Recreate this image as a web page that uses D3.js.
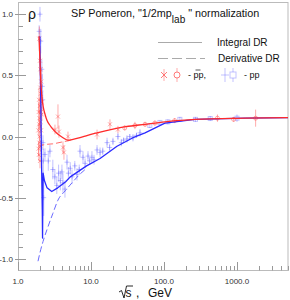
<!DOCTYPE html>
<html><head><meta charset="utf-8">
<script src="https://cdn.jsdelivr.net/npm/d3@7"></script>
<style>body{margin:0;background:#fff}svg{display:block}text{font-family:"Liberation Sans",Arial,sans-serif}</style>
</head><body><svg id="c" width="290" height="300"></svg>
<script>
// ---- data ----
const xTicks = [1, 10, 100, 1000];
const xTickLabels = ["1.0", "10.0", "100.0", "1000.0"];
const yTicks = [-1, -0.5, 0, 0.5, 1];
const yTickLabels = ["-1.0", "-0.5", "0.0", "0.5", "1.0"];

const redSolidS   = [1.94,2.0,2.05,2.1,2.15,2.22,2.35,2.5,2.75,3.0,3.5,4.13,4.84,5.5,7.07,9,12.1,20,30,55,103,266,1290,5000];
const redSolidRho = [0.82,0.62,0.46,0.36,0.30,0.24,0.18,0.13,0.09,0.06,0.02,-0.01,-0.03,-0.025,-0.01,0.01,0.03,0.06,0.08,0.10,0.12,0.14,0.15,0.155];
const redDashS    = [1.9,2.4,3.0,4.0,4.84,5.5];
const redDashRho  = [-0.08,-0.065,-0.06,-0.045,-0.035,-0.028];
const blueSolidS   = [1.99,2.05,2.1,2.15,2.17,2.19,2.21,2.3,2.5,2.9,3.5,4.5,5.2,8.7,13.3,22.7,37.6,55,103,266,1290,5000];
const blueSolidRho = [0.82,0.3,-0.2,-0.6,-0.83,-0.5,-0.3,-0.36,-0.42,-0.45,-0.42,-0.37,-0.33,-0.24,-0.18,-0.08,-0.01,0.03,0.11,0.14,0.15,0.155];
const blueDashS   = [1.88,2.0,2.2,2.5,3.0,3.53,4.5,5.66,7.0,8.5];
const blueDashRho = [-1.02,-0.95,-0.86,-0.76,-0.63,-0.52,-0.44,-0.37,-0.31,-0.265];

const redCrossS   = [1.90,1.91,1.92,1.93,1.94,1.95,1.96,1.97,1.98,1.99,2.00,2.01,2.02,2.03,2.04,2.05,2.06,2.07,2.08,2.10,1.96,2.0,2.03,2.12,3.21,3.53,3.64,4.13,4.26,4.84,12.1,18.2,23.4];
const redCrossRho = [0.05,-0.10,0.20,-0.15,0.30,0.10,-0.05,0.15,0.00,0.25,-0.20,0.08,0.40,0.12,-0.08,0.35,0.20,0.05,0.45,0.28,0.80,0.62,0.55,0.18,0.057,0.163,0.04,-0.09,-0.13,0.0,0.016,0.10,0.057];
const redCrossErr = [0.05,0.06,0.08,0.05,0.10,0.04,0.05,0.06,0.04,0.07,0.06,0.05,0.10,0.05,0.05,0.08,0.06,0.05,0.10,0.07,0.10,0.12,0.10,0.05,0.04,0.10,0.05,0.05,0.06,0.04,0.04,0.04,0.03];
const redCircS   = [29,40,55,75,140,540,900,1800];
const redCircRho = [0.07,0.09,0.10,0.11,0.13,0.15,0.14,0.15];
const redCircErr = [0.02,0.03,0.02,0.02,0.02,0.03,0.02,0.07];

const bluePlusS   = [1.95,2.0,2.05,2.12,2.15,2.18,2.2,2.22,2.25,2.34,2.74,3.0,3.2,3.6,3.8,4.0,4.13,4.4,4.69,5.5,6.43,7.07,7.77,9.1,10.3,12.1,13.3,16.6,20,23.4,31.1,37.6,46.9,
                     2.6,3.4,4.9,5.2,6.0,6.9,8.3,9.6,11.0,14.5,18.0,26.0,28.0,34.0,42.0];
const bluePlusRho = [0.86,1.0,0.78,0.55,0.41,0.30,-0.05,-0.20,-0.50,-0.147,-0.12,-0.27,-0.33,-0.30,-0.36,-0.29,-0.38,-0.43,-0.21,-0.33,-0.31,-0.12,-0.17,-0.16,-0.17,-0.11,-0.13,-0.05,-0.04,0.0,-0.02,-0.01,0.03,
                     -0.20,-0.40,-0.30,-0.26,-0.24,-0.27,-0.22,-0.20,-0.19,-0.12,-0.09,-0.05,-0.03,0.0,0.01];
const bluePlusErr = [0.05,0.06,0.10,0.08,0.10,0.08,0.06,0.10,0.15,0.05,0.05,0.08,0.06,0.07,0.08,0.06,0.08,0.07,0.06,0.06,0.05,0.05,0.05,0.04,0.05,0.04,0.04,0.04,0.03,0.03,0.03,0.03,0.03,
                     0.08,0.07,0.05,0.05,0.04,0.04,0.04,0.03,0.04,0.03,0.03,0.03,0.02,0.02,0.02];
const blueSqS   = [64,88,113,165,270,430,1000];
const blueSqRho = [0.09,0.115,0.12,0.14,0.14,0.147,0.15];
const blueSqErr = [0.02,0.015,0.02,0.02,0.02,0.02,0.03];

// ---- chart ----
const svg = d3.select("#c");
const x = d3.scaleLog().domain([1, 5000]).range([18, 288]);
const y = d3.scaleLinear().domain([-1.1, 1.1]).range([271, 2]);
const RED = "#ff2a2a", BLUE = "#2a2aff";
const RPT = "rgba(255,70,70,0.45)", BPT = "rgba(80,80,255,0.35)";

// frame
svg.append("rect").attr("x",18.5).attr("y",2.5).attr("width",269.5).attr("height",268)
  .attr("fill","none").attr("stroke","#bbb").attr("stroke-width",1);

// y ticks
const g = svg.append("g");
d3.range(-10, 11).forEach(i => {
  const v = i/10, yy = Math.round(y(v))+0.5;
  const major = i % 5 === 0;
  g.append("line").attr("x1", major?15:18.5).attr("x2", major?26:23).attr("y1",yy).attr("y2",yy)
    .attr("stroke","#999").attr("stroke-width",1);
});
yTicks.forEach((v,i)=>{
  g.append("text").attr("x",13).attr("y",y(v)+3).attr("text-anchor","end")
   .attr("font-size",8).attr("fill","#333").text(yTickLabels[i]);
});
// x ticks
xTicks.forEach(dec=>{
  for(let k=1;k<10;k++){
    const v=dec*k; if(v>5000) break;
    const xx=Math.round(x(v))+0.5; const major=k===1;
    g.append("line").attr("x1",xx).attr("x2",xx).attr("y1",270.5).attr("y2",major?262:266)
      .attr("stroke","#999").attr("stroke-width",1);
  }
});
xTicks.forEach((v,i)=>{
  g.append("text").attr("x",x(v)).attr("y",284).attr("text-anchor","middle")
   .attr("font-size",8).attr("fill","#333").text(xTickLabels[i]);
});

// axis titles
svg.append("text").attr("x",28).attr("y",19).attr("font-size",14).attr("fill","#111").text("ρ");
svg.append("text").attr("x",125.5).attr("y",297).attr("font-size",12).attr("fill","#111").text("s");
svg.append("text").attr("x",136).attr("y",297).attr("font-size",12).attr("fill","#111").text(",");
svg.append("text").attr("x",148).attr("y",297).attr("font-size",12).attr("fill","#111").text("GeV");
svg.append("path").attr("d","M119,292 L121.5,290.5 L124,298 L126.5,286 L133,286").attr("fill","none").attr("stroke","#111").attr("stroke-width",0.9);

// title
const tt = svg.append("text").attr("x",71).attr("y",17).attr("font-size",10.8).attr("fill","#111");
tt.append("tspan").text('SP Pomeron, "1/2mp');
tt.append("tspan").attr("dy",6).attr("font-size",10).text("lab");
tt.append("tspan").attr("dy",-6).text(' " normalization');

// data points
function errBars(S,R,E,col){
  S.forEach((s,i)=>{
    g.append("line").attr("x1",x(s)).attr("x2",x(s)).attr("y1",y(R[i]-E[i])).attr("y2",y(R[i]+E[i]))
     .attr("stroke",col).attr("stroke-width",1);
  });
}
function cross(cx,cy,col,r){
  g.append("path").attr("d",`M${cx-r},${cy-r}L${cx+r},${cy+r}M${cx-r},${cy+r}L${cx+r},${cy-r}`).attr("stroke",col).attr("fill","none");
}
function plus(cx,cy,col,r){
  g.append("path").attr("d",`M${cx-r},${cy}L${cx+r},${cy}M${cx},${cy-r}L${cx},${cy+r}`).attr("stroke",col).attr("fill","none");
}
errBars(bluePlusS,bluePlusRho,bluePlusErr,BPT);
bluePlusS.forEach((s,i)=>plus(x(s),y(bluePlusRho[i]),BPT,2.5));
errBars(blueSqS,blueSqRho,blueSqErr,BPT);
blueSqS.forEach((s,i)=>g.append("rect").attr("x",x(s)-2).attr("y",y(blueSqRho[i])-2).attr("width",4).attr("height",4).attr("fill","none").attr("stroke",BPT));
errBars(redCrossS,redCrossRho,redCrossErr,RPT);
redCrossS.forEach((s,i)=>cross(x(s),y(redCrossRho[i]),RPT,2));
errBars(redCircS,redCircRho,redCircErr,RPT);
redCircS.forEach((s,i)=>g.append("circle").attr("cx",x(s)).attr("cy",y(redCircRho[i])).attr("r",2).attr("fill","none").attr("stroke",RPT));

// curves
const line = d3.line().x(d=>x(d[0])).y(d=>y(d[1])).curve(d3.curveMonotoneX);
const lineL = d3.line().x(d=>x(d[0])).y(d=>y(d[1]));
svg.append("path").datum(blueDashS.map((s,i)=>[s,blueDashRho[i]])).attr("d",line)
  .attr("fill","none").attr("stroke","#6a6aff").attr("stroke-width",1).attr("stroke-dasharray","6,3");
svg.append("path").datum(redDashS.map((s,i)=>[s,redDashRho[i]])).attr("d",line)
  .attr("fill","none").attr("stroke","#ff6a6a").attr("stroke-width",1).attr("stroke-dasharray","6,3");
svg.append("path").datum(blueSolidS.map((s,i)=>[s,blueSolidRho[i]])).attr("d",lineL)
  .attr("fill","none").attr("stroke",BLUE).attr("stroke-width",1.3).attr("stroke-linejoin","round");
svg.append("path").datum(redSolidS.map((s,i)=>[s,redSolidRho[i]])).attr("d",line)
  .attr("fill","none").attr("stroke",RED).attr("stroke-width",1.3);

// legend
const L = svg.append("g");
L.append("line").attr("x1",158).attr("x2",202).attr("y1",42.5).attr("y2",42.5).attr("stroke","#aaa");
L.append("text").attr("x",217).attr("y",46).attr("font-size",10).attr("fill","#111").text("Integral DR");
L.append("line").attr("x1",158).attr("x2",205).attr("y1",58.5).attr("y2",58.5).attr("stroke","#aaa").attr("stroke-dasharray","10,4");
L.append("text").attr("x",218).attr("y",62).attr("font-size",10).attr("fill","#111").text("Derivative DR");
const ly = 75;
L.append("line").attr("x1",164).attr("x2",164).attr("y1",ly-6).attr("y2",ly+6).attr("stroke",RPT);
L.append("path").attr("d",`M161,${ly-3}L167,${ly+3}M161,${ly+3}L167,${ly-3}`).attr("stroke","rgba(255,70,70,0.7)");
L.append("line").attr("x1",177).attr("x2",177).attr("y1",ly-7).attr("y2",ly+7).attr("stroke",RPT);
L.append("circle").attr("cx",177).attr("cy",ly).attr("r",3).attr("fill","#fff").attr("stroke","rgba(255,70,70,0.7)");
L.append("text").attr("x",188).attr("y",ly+3).attr("font-size",9).attr("fill","#111").text("-  pp,");
L.append("line").attr("x1",195.5).attr("x2",200.5).attr("y1",ly-5).attr("y2",ly-5).attr("stroke","#111").attr("stroke-width",0.7);
L.append("line").attr("x1",225).attr("x2",225).attr("y1",ly-7).attr("y2",ly+7).attr("stroke",BPT);
L.append("line").attr("x1",221).attr("x2",229).attr("y1",ly).attr("y2",ly).attr("stroke",BPT);
L.append("line").attr("x1",233).attr("x2",233).attr("y1",ly-7).attr("y2",ly+7).attr("stroke",BPT);
L.append("rect").attr("x",230).attr("y",ly-3).attr("width",6).attr("height",6).attr("fill","#fff").attr("stroke",BPT);
L.append("text").attr("x",244).attr("y",ly+3).attr("font-size",9).attr("fill","#111").text("-  pp");
</script></body></html>
